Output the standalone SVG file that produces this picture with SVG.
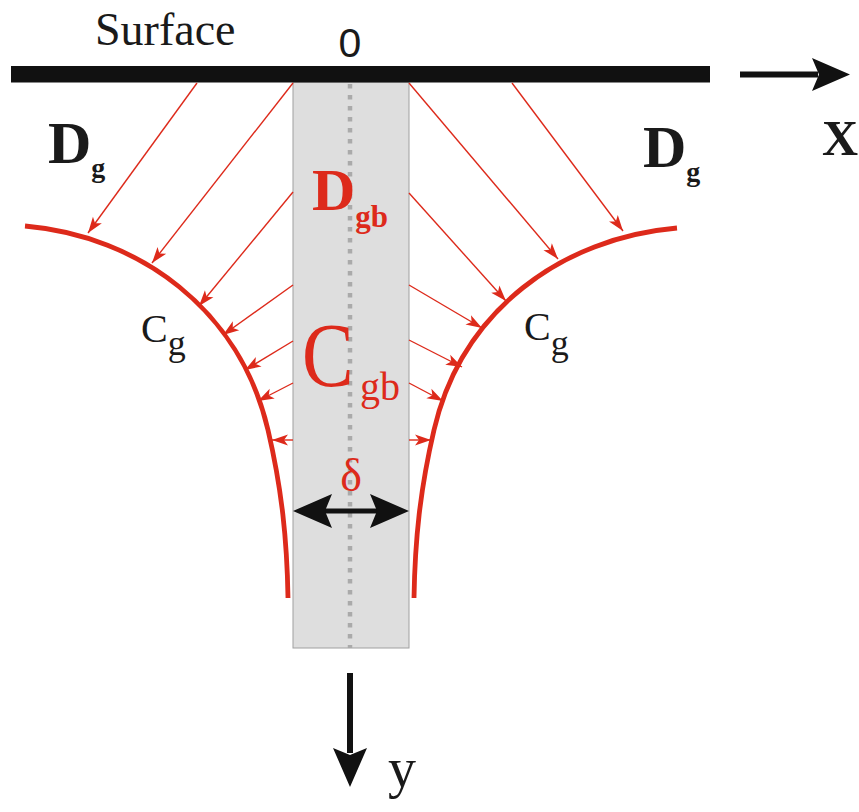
<svg xmlns="http://www.w3.org/2000/svg" width="859" height="812" viewBox="0 0 859 812">
<style>
text.serif{font-family:'Liberation Serif','Times New Roman',serif}
.bold{font-weight:bold}
.red{fill:#dd2a1b}
.blk{fill:#1a1a1a}
.ra{stroke:#dd2a1b;stroke-width:1.4;fill:none;marker-end:url(#ra)}
.curve{stroke:#dd2a1b;stroke-width:4.8;fill:none}
</style>
<defs>
<marker id="ra" markerWidth="18" markerHeight="14" viewBox="-17 -7 18 14" refX="0" refY="0" orient="auto" markerUnits="userSpaceOnUse">
<path d="M0,0 L-16,-5.5 L-12,0 L-16,5.5 Z" fill="#dd2a1b"/>
</marker>
</defs>
<rect width="859" height="812" fill="#ffffff"/>
<g id="strip">
<rect x="293" y="82" width="116" height="566" fill="#dedede" stroke="#a0a0a0" stroke-width="1"/>
<line x1="350" y1="84" x2="350" y2="648" stroke="#aaaaaa" stroke-width="4.5" stroke-dasharray="4.5 6.5"/>
</g>
<g id="surface">
<rect x="11" y="66" width="699" height="16.5" fill="#111111"/>
<text x="95" y="45" class="serif blk" font-size="46">Surface</text>
<text x="350" y="57" font-family="'Liberation Sans', Arial, sans-serif" font-size="41" text-anchor="middle" class="blk">0</text>
</g>
<g id="curves">
<path class="curve" d="M25,226 C140,236 240,310 268,430 C282,490 287,540 288,598"/>
<path class="curve" d="M677,228 C562,238 462,310 434,430 C420,490 415,540 414,598"/>
</g>
<g id="connectors">
<line class="ra" x1="197" y1="83" x2="88" y2="233"/>
<line class="ra" x1="293" y1="83" x2="152" y2="263"/>
<line class="ra" x1="293" y1="192" x2="199" y2="306"/>
<line class="ra" x1="293" y1="285" x2="223" y2="335"/>
<line class="ra" x1="293" y1="341" x2="245" y2="370"/>
<line class="ra" x1="293" y1="383" x2="258" y2="401"/>
<line class="ra" x1="293" y1="440" x2="272" y2="440"/>
<line class="ra" x1="512" y1="83" x2="623" y2="231"/>
<line class="ra" x1="409" y1="83" x2="558" y2="259"/>
<line class="ra" x1="409" y1="193" x2="506" y2="301"/>
<line class="ra" x1="409" y1="285" x2="482" y2="328"/>
<line class="ra" x1="409" y1="340" x2="462" y2="367"/>
<line class="ra" x1="409" y1="383" x2="443" y2="401"/>
<line class="ra" x1="409" y1="440" x2="431" y2="440"/>
</g>
<g id="x-axis">
<rect x="740" y="71.5" width="78" height="6" fill="#111111"/>
<polygon points="850,74.5 812,58 819,74.5 812,91" fill="#111111"/>
<text x="822" y="155" class="serif bold blk" font-size="50">X</text>
</g>
<g id="y-axis">
<rect x="347" y="673" width="6" height="80" fill="#111111"/>
<polygon points="350,787 333,748 350,755 367,748" fill="#111111"/>
<text x="388" y="787" class="serif blk" font-size="56">y</text>
</g>
<g id="delta">
<rect x="322" y="508.5" width="58" height="5" fill="#111111"/>
<polygon points="293,511 332,494 325,511 332,528" fill="#111111"/>
<polygon points="409,511 370,494 377,511 370,528" fill="#111111"/>
<text x="351" y="491" class="serif red" font-size="46" text-anchor="middle">δ</text>
</g>
<g id="Dg-left">
<text x="48" y="163" class="serif bold blk" font-size="60">D<tspan font-size="28" dy="14">g</tspan></text>
</g>
<g id="Dg-right">
<text x="643" y="167" class="serif bold blk" font-size="60">D<tspan font-size="28" dy="14">g</tspan></text>
</g>
<g id="Dgb">
<text x="312" y="210" class="serif bold red" font-size="60">D<tspan font-size="31" dy="17">gb</tspan></text>
</g>
<g id="Cgb">
<text transform="translate(302,386) scale(0.86,1)" class="serif red" font-size="90">C</text>
<text x="360" y="400" class="serif red" font-size="40">gb</text>
</g>
<g id="Cg-left">
<text x="141" y="342" class="serif blk" font-size="40">C<tspan font-size="36" dy="13">g</tspan></text>
</g>
<g id="Cg-right">
<text x="524" y="340" class="serif blk" font-size="40">C<tspan font-size="36" dy="15">g</tspan></text>
</g>
</svg>
